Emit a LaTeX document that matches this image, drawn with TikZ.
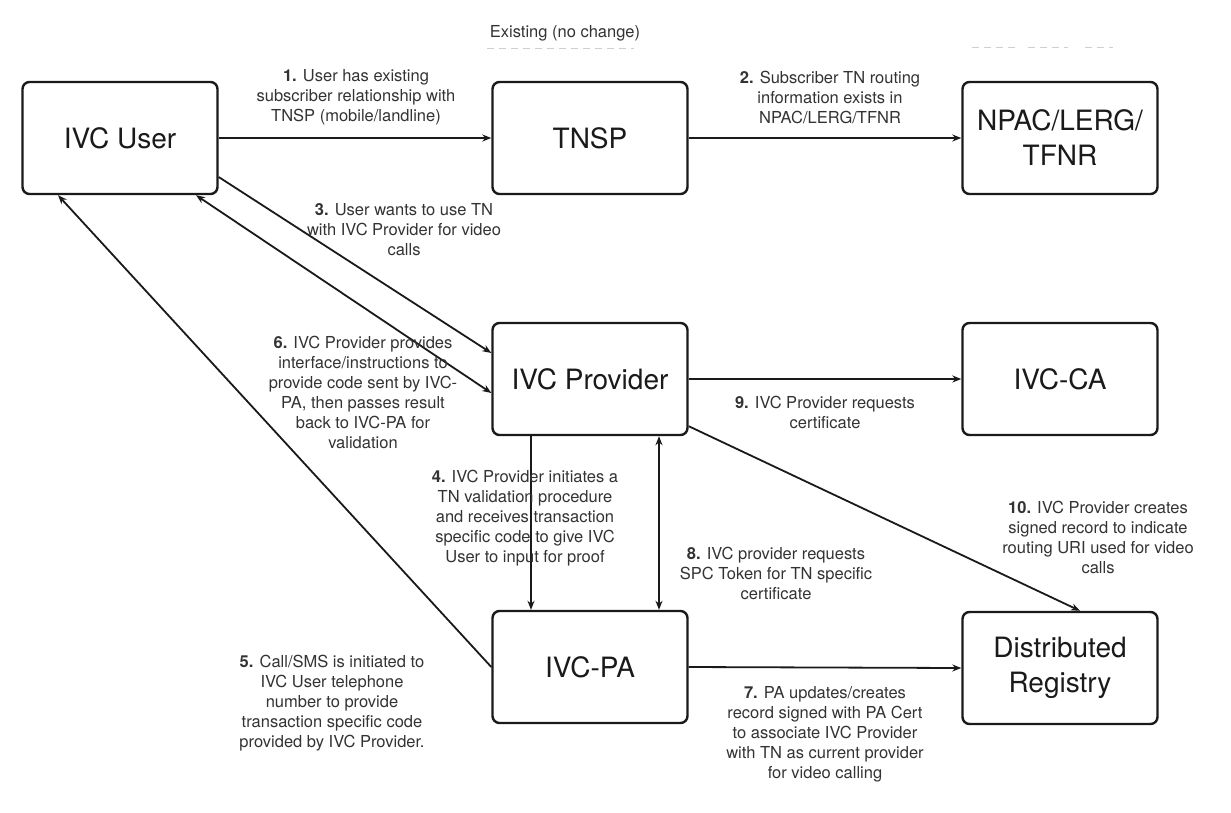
\documentclass[tikz,border=0pt]{standalone}
\usepackage{fontspec}
\setmainfont{TeX Gyre Heros}
\usetikzlibrary{arrows.meta}
\definecolor{ink}{HTML}{1A1A1A}
\definecolor{note}{HTML}{333333}
\definecolor{faint}{HTML}{CFCFCF}
\begin{document}
\begin{tikzpicture}[x=1pt,y=-1pt,
  box/.style={draw=ink, line width=2.4pt, rounded corners=7pt,
    minimum width=195pt, minimum height=112pt, inner sep=0pt,
    align=center, text=ink, font=\fontsize{28}{35}\selectfont},
  lbl/.style={align=center, text=note, inner sep=0pt,
    font=\fontsize{16.5}{20}\selectfont},
  flow/.style={draw=ink, line width=1.8pt, -{Stealth[length=9pt,width=7pt]}},
  twoway/.style={draw=ink, line width=1.8pt,
    {Stealth[length=9pt,width=7pt]}-{Stealth[length=9pt,width=7pt]}},
  guide/.style={draw=faint, line width=1pt, dash pattern=on 7pt off 5pt}
]
% canvas
\fill[white] (0,0) rectangle (1231,812);
\useasboundingbox (0,0) rectangle (1231,812);

% heading and faint guide lines
\node[lbl] (head) at (565,33) {Existing (no change)};
\coordinate (g1a) at (487,48);
\coordinate (g1b) at (634,48);
\draw[guide] (g1a) -- (g1b);
\coordinate (g2a) at (972,47);
\coordinate (g2b) at (1020,47);
\coordinate (g3a) at (1028,47);
\coordinate (g3b) at (1068,47);
\coordinate (g4a) at (1085,47);
\coordinate (g4b) at (1113,47);
\draw[guide] (g2a) -- (g2b);
\draw[guide] (g3a) -- (g3b);
\draw[guide] (g4a) -- (g4b);

% entities
\node[box] (user) at (120,138) {IVC User};
\node[box] (tnsp) at (590,138) {TNSP};
\node[box] (npac) at (1060,138) {NPAC/LERG/\\TFNR};
\node[box] (prov) at (590,379) {IVC Provider};
\node[box] (ca)   at (1060,379) {IVC-CA};
\node[box] (pa)   at (590,667) {IVC-PA};
\node[box] (reg)  at (1060,668) {Distributed\\Registry};

% flows
\draw[flow] (user.east) -- (tnsp.west);
\draw[flow] (tnsp.east) -- (npac.west);
\draw[flow] ([yshift=-39pt]user.east) -- ([yshift=26pt]prov.west);
\draw[twoway] ([xshift=76pt]user.south) -- ([yshift=-14pt]prov.west);
\draw[flow] (pa.west) -- ([xshift=-62pt]user.south);
\draw[flow] ([xshift=-59pt]prov.south) -- ([xshift=-59pt]pa.north);
\draw[twoway] ([xshift=69pt]prov.south) -- ([xshift=69pt]pa.north);
\draw[flow] (pa.east) -- (reg.west);
\draw[flow] (prov.east) -- (ca.west);
\draw[flow] ([yshift=10pt]prov.south east) -- ([xshift=20pt]reg.north);

% step notes
\node[lbl] (n1) at (356,97) {\textbf{1.} User has existing\\subscriber relationship with\\TNSP (mobile/landline)};
\node[lbl] (n2) at (830,97) {\textbf{2.} Subscriber TN routing\\information exists in\\NPAC/LERG/TFNR};
\node[lbl] (n3) at (404,230) {\textbf{3.} User wants to use TN\\with IVC Provider for video\\calls};
\node[lbl] (n6) at (363,392) {\textbf{6.} IVC Provider provides\\interface/instructions to\\provide code sent by IVC-\\PA, then passes result\\back to IVC-PA for\\validation};
\node[lbl] (n4) at (525,518) {\textbf{4.} IVC Provider initiates a\\TN validation procedure\\and receives transaction\\specific code to give IVC\\User to input for proof};
\node[lbl] (n9) at (825,412) {\textbf{9.} IVC Provider requests\\certificate};
\node[lbl] (n10) at (1098,537) {\textbf{10.} IVC Provider creates\\signed record to indicate\\routing URI used for video\\calls};
\node[lbl] (n8) at (776,573) {\textbf{8.} IVC provider requests\\SPC Token for TN specific\\certificate};
\node[lbl] (n5) at (332,703) {\textbf{5.} Call/SMS is initiated to\\IVC User telephone\\number to provide\\transaction specific code\\provided by IVC Provider.};
\node[lbl] (n7) at (825,734) {\textbf{7.} PA updates/creates\\record signed with PA Cert\\to associate IVC Provider\\with TN as current provider\\for video calling};
\end{tikzpicture}
\end{document}
